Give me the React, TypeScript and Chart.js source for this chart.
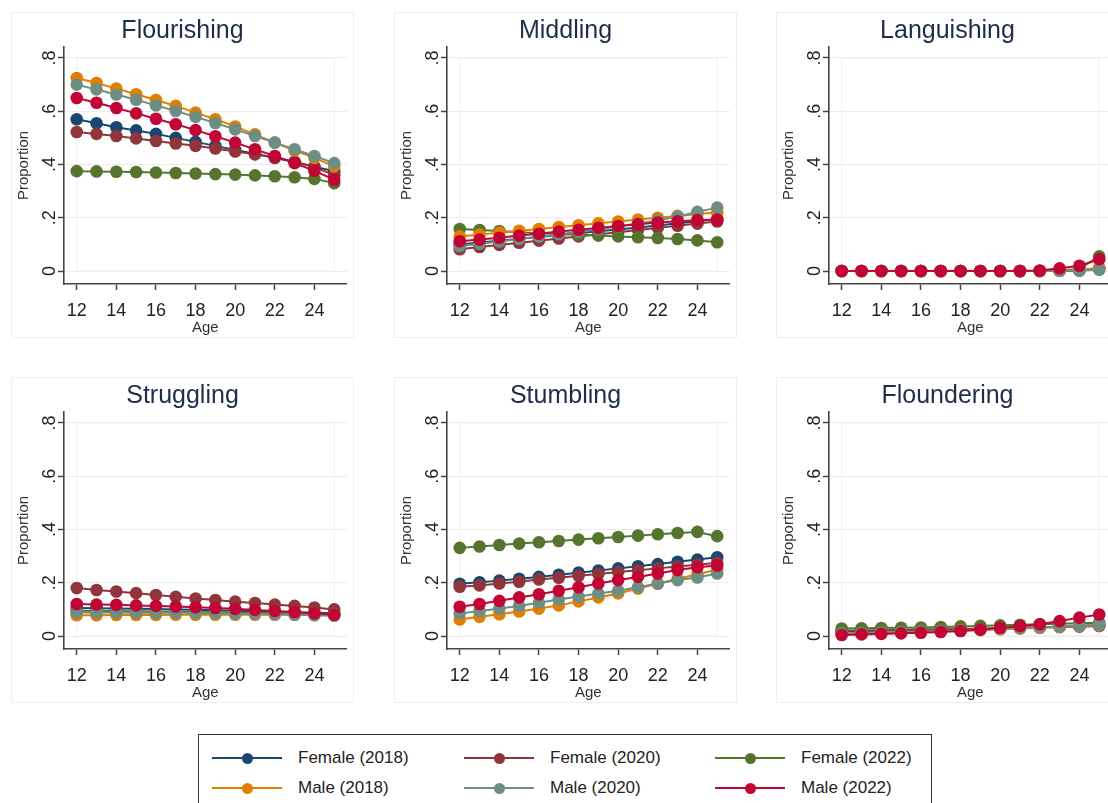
import React, { useEffect, useRef } from "react";
import { Chart, registerables } from "chart.js";

Chart.register(...registerables);

// ---------- data ----------
const ages = [12, 13, 14, 15, 16, 17, 18, 19, 20, 21, 22, 23, 24, 25];
const xTickValues = [12, 14, 16, 18, 20, 22, 24];
const yTickValues = [0, 0.2, 0.4, 0.6, 0.8];
const yTickLabels = ["0", ".2", ".4", ".6", ".8"];

const seriesNames = [
  "Female (2018)",
  "Female (2020)",
  "Female (2022)",
  "Male (2018)",
  "Male (2020)",
  "Male (2022)",
];
const seriesColors = ["#1a476f", "#90353b", "#55752f", "#e37e00", "#6e8e84", "#c10534"];

const panelTitles = ["Flourishing", "Middling", "Languishing", "Struggling", "Stumbling", "Floundering"];

// rows follow seriesNames order
const flourishing = [
  [0.57, 0.555, 0.54, 0.528, 0.515, 0.5, 0.485, 0.47, 0.455, 0.44, 0.425, 0.41, 0.392, 0.375],
  [0.522, 0.515, 0.507, 0.498, 0.488, 0.479, 0.47, 0.46, 0.449, 0.438, 0.425, 0.41, 0.39, 0.36],
  [0.375, 0.374, 0.373, 0.372, 0.37, 0.368, 0.366, 0.364, 0.362, 0.359, 0.356, 0.352, 0.346, 0.33],
  [0.725, 0.706, 0.685, 0.664, 0.642, 0.62, 0.595, 0.57, 0.543, 0.513, 0.482, 0.452, 0.425, 0.393],
  [0.7, 0.682, 0.663, 0.643, 0.622, 0.601, 0.579, 0.556, 0.532, 0.507, 0.482, 0.457, 0.432, 0.405],
  [0.65, 0.632, 0.612, 0.592, 0.572, 0.551, 0.529, 0.506, 0.482, 0.457, 0.432, 0.405, 0.376, 0.343],
];
const middling = [
  [0.1, 0.107, 0.114, 0.121, 0.128, 0.135, 0.142, 0.149, 0.156, 0.163, 0.171, 0.179, 0.187, 0.195],
  [0.082, 0.09, 0.098, 0.106, 0.114, 0.122, 0.13, 0.138, 0.146, 0.154, 0.162, 0.17, 0.178, 0.186],
  [0.158, 0.154, 0.15, 0.146, 0.142, 0.139, 0.136, 0.133, 0.13, 0.127, 0.124, 0.12, 0.115, 0.108],
  [0.13, 0.137, 0.144, 0.151, 0.158, 0.165, 0.172, 0.179, 0.186, 0.193, 0.2, 0.207, 0.214, 0.22],
  [0.093, 0.102, 0.111, 0.12, 0.129, 0.138, 0.147, 0.157, 0.167, 0.178, 0.19, 0.205, 0.222, 0.238],
  [0.112, 0.118, 0.125, 0.133, 0.14, 0.148, 0.155, 0.162, 0.169, 0.176, 0.182, 0.187, 0.191, 0.193],
];
const languishing = [
  [0, 0, 0, 0, 0, 0, 0, 0, 0, 0, 0, 0.001, 0.003, 0.008],
  [0, 0, 0, 0, 0, 0, 0, 0, 0, 0, 0, 0.001, 0.002, 0.01],
  [0, 0, 0, 0, 0, 0, 0, 0, 0, 0, 0, 0.002, 0.008, 0.055],
  [0, 0, 0, 0, 0, 0, 0, 0, 0, 0, 0, 0.001, 0.004, 0.012],
  [0, 0, 0, 0, 0, 0, 0, 0, 0, 0, 0, 0.001, 0.002, 0.005],
  [0, 0, 0, 0, 0, 0, 0, 0, 0, 0, 0.002, 0.01, 0.02, 0.044],
];
const struggling = [
  [0.105, 0.104, 0.103, 0.102, 0.101, 0.1, 0.099, 0.097, 0.095, 0.093, 0.091, 0.089, 0.087, 0.085],
  [0.18, 0.173, 0.167, 0.161, 0.154, 0.147, 0.141, 0.135, 0.129, 0.124, 0.118, 0.113, 0.107, 0.1],
  [0.095, 0.094, 0.094, 0.093, 0.092, 0.091, 0.09, 0.089, 0.088, 0.087, 0.086, 0.085, 0.084, 0.083],
  [0.078, 0.078, 0.079, 0.079, 0.079, 0.08, 0.08, 0.08, 0.08, 0.08, 0.08, 0.08, 0.079, 0.078],
  [0.088, 0.088, 0.088, 0.087, 0.087, 0.087, 0.086, 0.085, 0.084, 0.083, 0.082, 0.08, 0.078, 0.076],
  [0.12, 0.118, 0.117, 0.115, 0.113, 0.111, 0.108, 0.105, 0.102, 0.098, 0.094, 0.09, 0.085, 0.08],
];
const stumbling = [
  [0.196, 0.202, 0.208, 0.215, 0.222, 0.23, 0.238, 0.246, 0.254, 0.262, 0.27, 0.279, 0.287, 0.296],
  [0.185, 0.19, 0.197, 0.204, 0.212, 0.219, 0.226, 0.233, 0.24, 0.247, 0.254, 0.261, 0.268, 0.275],
  [0.331, 0.336, 0.342, 0.347, 0.352, 0.357, 0.362, 0.367, 0.372, 0.377, 0.382, 0.387, 0.391, 0.375],
  [0.062, 0.072, 0.082, 0.092, 0.103, 0.115, 0.13, 0.145, 0.16, 0.178, 0.196, 0.215, 0.232, 0.25],
  [0.085, 0.093, 0.103, 0.113, 0.125, 0.137, 0.148, 0.16, 0.17, 0.183, 0.197, 0.21, 0.22, 0.235],
  [0.11, 0.12, 0.132, 0.145, 0.157, 0.17, 0.183, 0.197, 0.21, 0.222, 0.235, 0.248, 0.258, 0.265],
];
const floundering = [
  [0.018, 0.019, 0.02, 0.021, 0.022, 0.023, 0.024, 0.026, 0.028, 0.03, 0.032, 0.034, 0.036, 0.038],
  [0.02, 0.021, 0.022, 0.023, 0.024, 0.025, 0.026, 0.027, 0.029, 0.031, 0.033, 0.035, 0.037, 0.038],
  [0.028, 0.029, 0.03, 0.031, 0.032, 0.034, 0.036, 0.038, 0.04, 0.042, 0.044, 0.046, 0.048, 0.05],
  [0.008, 0.01, 0.012, 0.014, 0.016, 0.018, 0.02, 0.022, 0.025, 0.028, 0.031, 0.034, 0.037, 0.04],
  [0.01, 0.011, 0.013, 0.015, 0.017, 0.019, 0.021, 0.024, 0.027, 0.03, 0.033, 0.036, 0.039, 0.042],
  [0.004, 0.006, 0.008, 0.01, 0.012, 0.015, 0.019, 0.024, 0.031, 0.037, 0.044, 0.056, 0.069, 0.081],
];
const panelData = [flourishing, middling, languishing, struggling, stumbling, floundering];

// ---------- styling ----------
const FONT = "'Liberation Sans', Arial, Helvetica, sans-serif";
const PANEL_W = 341;
const PANEL_H = 324;
const COL_LEFT = [12, 395, 777];
const ROW_TOP = [13, 378];

const yTickLabelPlugin = {
  id: "yTickLabelsRotated",
  afterDraw(chart: any) {
    const s = chart.scales.y;
    const ctx = chart.ctx;
    ctx.save();
    ctx.font = `18px ${FONT}`;
    ctx.fillStyle = "#222";
    ctx.textAlign = "center";
    ctx.textBaseline = "alphabetic";
    const bx = s.right - 6 - 3;
    yTickValues.forEach((v, i) => {
      const py = s.getPixelForValue(v);
      ctx.save();
      ctx.translate(bx, py);
      ctx.rotate(-Math.PI / 2);
      ctx.fillText(yTickLabels[i], 0, 0);
      ctx.restore();
    });
    ctx.restore();
  },
};

const innerBoxPlugin = {
  id: "innerPlotBox",
  beforeDatasetsDraw(chart: any) {
    const xs = chart.scales.x;
    const ys = chart.scales.y;
    const ctx = chart.ctx;
    const x0 = xs.getPixelForValue(ages[0]);
    const x1 = xs.getPixelForValue(ages[ages.length - 1]);
    const y0 = ys.getPixelForValue(0);
    const y1 = ys.getPixelForValue(0.8);
    ctx.save();
    ctx.strokeStyle = "#efefef";
    ctx.lineWidth = 1;
    ctx.strokeRect(x0, y1, x1 - x0, y0 - y1);
    ctx.restore();
  },
};

function Panel({ index }: { index: number }) {
  const ref = useRef<HTMLCanvasElement | null>(null);
  useEffect(() => {
    if (!ref.current) return;
    const rows = panelData[index];
    const chart = new Chart(ref.current, {
      type: "line",
      data: {
        datasets: seriesNames.map((name, i) => ({
          label: name,
          data: ages.map((a, j) => ({ x: a, y: rows[i][j] })),
          borderColor: seriesColors[i],
          backgroundColor: seriesColors[i],
          pointBackgroundColor: seriesColors[i],
          pointBorderColor: seriesColors[i],
          pointBorderWidth: 0,
          pointRadius: 6.3,
          borderWidth: 2,
          tension: 0,
          order: seriesNames.length - 1 - i,
          clip: false,
        })),
      },
      options: {
        animation: false,
        responsive: false,
        maintainAspectRatio: false,
        layout: { padding: 0 },
        plugins: {
          legend: { display: false },
          tooltip: { enabled: false },
          title: {
            display: true,
            text: panelTitles[index],
            color: "#1f2d4b",
            font: { family: FONT, size: 25, weight: "normal", lineHeight: 1.2 },
            padding: { top: 3, bottom: 1 },
          },
        },
        scales: {
          x: {
            type: "linear",
            min: 11.358,
            max: 25.63,
            afterBuildTicks: (s: any) => {
              s.ticks = xTickValues.map((v) => ({ value: v }));
            },
            afterFit: (s: any) => {
              s.height = 53;
            },
            ticks: {
              color: "#222",
              font: { family: FONT, size: 18 },
              padding: 10,
              maxRotation: 0,
              minRotation: 0,
              autoSkip: false,
              callback: (v: any) => String(v),
            },
            grid: { drawOnChartArea: false, drawTicks: true, tickLength: 6, tickColor: "#444", tickWidth: 1.5 },
            border: { display: true, color: "#444", width: 1.6 },
            title: {
              display: true,
              text: "Age",
              color: "#333",
              font: { family: FONT, size: 15 },
              padding: { top: 0, bottom: 0 },
            },
          },
          y: {
            type: "linear",
            min: -0.0488,
            max: 0.8413,
            afterBuildTicks: (s: any) => {
              s.ticks = yTickValues.map((v) => ({ value: v }));
            },
            afterFit: (s: any) => {
              s.width = 52;
            },
            ticks: { display: false },
            grid: { color: "#ebebeb", lineWidth: 1, drawTicks: true, tickLength: 6, tickColor: "#444", tickWidth: 1.5 },
            border: { display: true, color: "#444", width: 1.6 },
            title: {
              display: true,
              text: "Proportion",
              color: "#333",
              font: { family: FONT, size: 15 },
              padding: { top: 3, bottom: 0 },
            },
          },
        },
      } as any,
      plugins: [yTickLabelPlugin, innerBoxPlugin],
    });
    return () => chart.destroy();
  }, [index]);

  const col = index % 3;
  const row = Math.floor(index / 3);
  return (
    <div
      style={{
        position: "absolute",
        left: COL_LEFT[col],
        top: ROW_TOP[row],
        width: PANEL_W,
        height: PANEL_H,
        outline: "1px solid #efefef",
        background: "#fff",
      }}
    >
      <canvas ref={ref} width={PANEL_W} height={PANEL_H} style={{ display: "block", width: PANEL_W, height: PANEL_H }} />
    </div>
  );
}

function Legend() {
  const lineStarts = [13, 265, 516];
  const rowCenters = [23, 53];
  return (
    <div
      style={{
        position: "absolute",
        left: 198,
        top: 734,
        width: 734,
        height: 90,
        border: "1.6px solid #333",
        boxSizing: "border-box",
        background: "#fff",
        fontFamily: FONT,
      }}
    >
      {seriesNames.map((name, i) => {
        const c = i % 3;
        const r = Math.floor(i / 3);
        const lx = lineStarts[c];
        const cy = rowCenters[r];
        return (
          <React.Fragment key={name}>
            <div
              style={{
                position: "absolute",
                left: lx,
                top: cy - 1.25,
                width: 70,
                height: 2.5,
                background: seriesColors[i],
              }}
            />
            <div
              style={{
                position: "absolute",
                left: lx + 35 - 5.5,
                top: cy - 5.5,
                width: 11,
                height: 11,
                borderRadius: "50%",
                background: seriesColors[i],
              }}
            />
            <div
              style={{
                position: "absolute",
                left: lx + 86,
                top: cy - 10,
                height: 20,
                lineHeight: "20px",
                fontSize: 17,
                color: "#222",
                whiteSpace: "nowrap",
              }}
            >
              {name}
            </div>
          </React.Fragment>
        );
      })}
    </div>
  );
}

export default function App() {
  return (
    <div
      style={{
        position: "fixed",
        left: 0,
        top: 0,
        width: 1108,
        height: 803,
        overflow: "hidden",
        background: "#fff",
      }}
    >
      {panelTitles.map((t, i) => (
        <Panel key={t} index={i} />
      ))}
      <Legend />
    </div>
  );
}
